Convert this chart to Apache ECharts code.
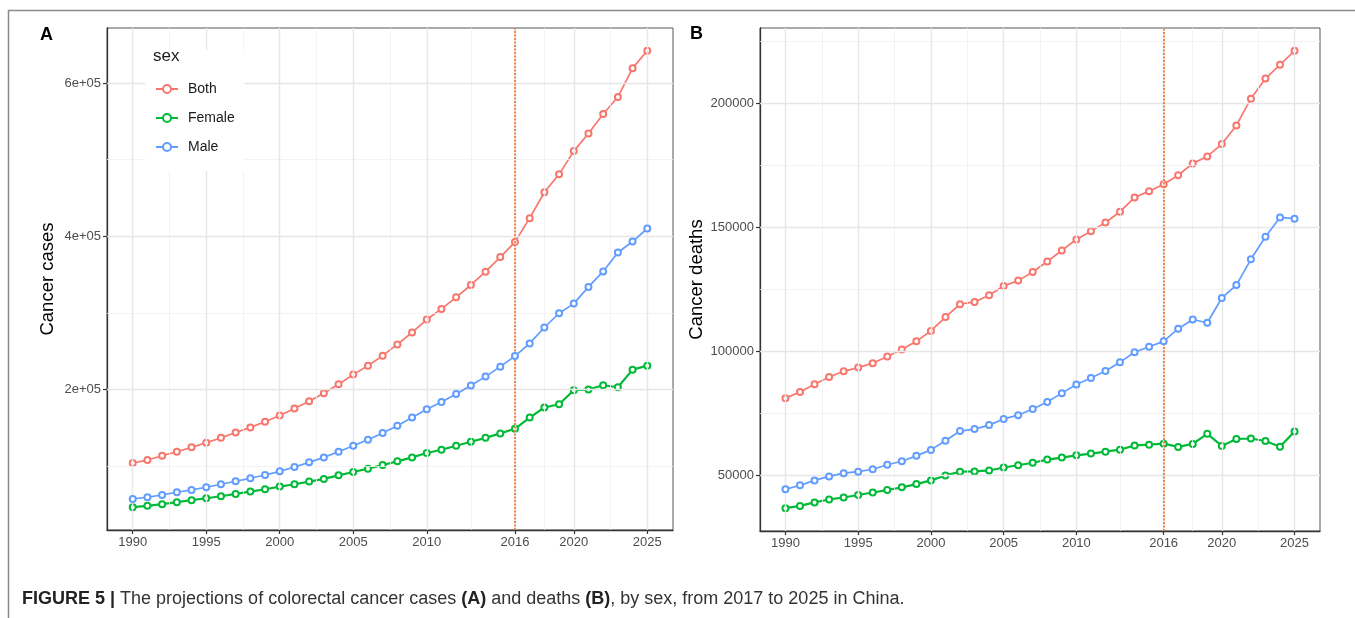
<!DOCTYPE html>
<html>
<head>
<meta charset="utf-8">
<script src="https://cdn.jsdelivr.net/npm/echarts@6/dist/echarts.min.js"></script>
<style>
html,body{margin:0;padding:0;background:#fff;}
#chart{width:1355px;height:618px;}
</style>
</head>
<body>
<div id="chart"></div>
<script>
// ---------- data ----------
const years = [1990,1991,1992,1993,1994,1995,1996,1997,1998,1999,
               2000,2001,2002,2003,2004,2005,2006,2007,2008,2009,
               2010,2011,2012,2013,2014,2015,2016,2017,2018,2019,
               2020,2021,2022,2023,2024,2025];

const casesBoth = [104200,108000,113700,118900,124600,130600,137000,144000,150600,157900,
                   166200,175300,184800,195200,206900,219500,231200,244200,258900,274500,
                   291400,305300,320400,336500,353800,372900,392500,423700,457500,480900,
                   511200,534200,559700,581800,619500,642100];
const casesFemale = [46500,48300,50400,53000,55600,58200,60800,63800,66900,69900,
                     73400,76400,79900,83400,88100,92400,96800,101600,106300,111500,
                     117200,121500,126700,131900,137000,142800,148800,163500,176600,180900,
                     199100,200000,205600,203000,226000,231200];
const casesMale = [57300,59500,62500,66000,69000,72500,76400,80300,84200,88500,
                   93300,98900,105000,111500,118900,126700,134500,143200,152700,163500,
                   174400,183900,194300,205200,216900,229900,243700,260200,281000,299600,
                   312200,334000,354200,378900,393200,410200];

const deathsBoth = [81000,83600,86700,89600,91900,93400,95200,97900,100700,104000,
                    108200,113800,119000,119900,122600,126300,128500,132000,136200,140700,
                    145100,148400,151900,156300,162000,164600,167400,171000,175800,178600,
                    183600,191100,201900,210000,215600,221200];
const deathsFemale = [36700,37600,39000,40200,41000,42000,43000,44000,45100,46400,
                      47900,49900,51400,51500,51900,53100,54000,55000,56300,57100,
                      58000,58700,59500,60300,62000,62300,62700,61400,62600,66700,
                      61800,64600,64800,63800,61500,67600];
const deathsMale = [44300,45900,47900,49500,50800,51400,52400,54200,55600,57800,
                    60200,63900,67800,68600,70200,72700,74200,76700,79500,83100,
                    86600,89200,92000,95600,99600,101800,104000,109100,112800,111500,
                    121500,126700,137100,146200,154000,153500];

const sexNames = ['Both','Female','Male'];
const sexColors = ['#F8766D','#00BA38','#619CFF'];

const xTicks = [1990,1995,2000,2005,2010,2016,2020,2025];
const xMinor = [1992.5,1997.5,2002.5,2007.5,2013,2018,2022.5];
const cutYear = 2016;

const casesTicks = [200000,400000,600000];
const casesTickLabels = ['2e+05','4e+05','6e+05'];
const casesMinor = [100000,300000,500000];

const deathsTicks = [50000,100000,150000,200000];
const deathsTickLabels = ['50000','100000','150000','200000'];
const deathsMinor = [75000,125000,175000,225000];

// ---------- helpers ----------
function expand(lo, hi){ const r = hi - lo; return [lo - 0.05*r, hi + 0.05*r]; }
const xr = expand(years[0], years[years.length-1]);
const cr = expand(Math.min(...casesFemale), Math.max(...casesBoth));
const dr = expand(Math.min(...deathsFemale), Math.max(...deathsBoth));

const FONT = "'Liberation Sans',Arial,Helvetica,sans-serif";

function pairs(vals){ return years.map((y,i)=>[y, vals[i]]); }

function xAxisDef(gi){
  return {
    type:'value', gridIndex:gi, min:xr[0], max:xr[1],
    axisLine:{show:true, onZero:false, lineStyle:{color:'#333', width:1.3}},
    axisTick:{show:true, customValues:xTicks, length:4, lineStyle:{color:'#333', width:1.2}},
    axisLabel:{show:true, customValues:xTicks, margin:6, color:'#4d4d4d', fontSize:13, fontFamily:FONT,
               formatter:v=>String(v)},
    splitLine:{show:false}
  };
}
function yAxisDef(gi, rng, ticks, labels, name){
  return {
    type:'value', gridIndex:gi, min:rng[0], max:rng[1],
    name:name, nameLocation:'middle', nameGap:50, nameRotate:90,
    nameTextStyle:{color:'#000', fontSize:18.5, fontFamily:FONT},
    axisLine:{show:true, onZero:false, lineStyle:{color:'#333', width:1.3}},
    axisTick:{show:true, customValues:ticks, length:4, lineStyle:{color:'#333', width:1.2}},
    axisLabel:{show:true, customValues:ticks, margin:6, color:'#4d4d4d', fontSize:13, fontFamily:FONT,
               formatter:v=>{const k=ticks.indexOf(v); return k>=0?labels[k]:'';}},
    splitLine:{show:false}
  };
}
function gridSeries(gi, yMajor, yMinor){
  const major = xTicks.map(v=>({xAxis:v})).concat(yMajor.map(v=>({yAxis:v})));
  const minor = xMinor.map(v=>({xAxis:v})).concat(yMinor.map(v=>({yAxis:v})));
  return [
    {type:'line', xAxisIndex:gi, yAxisIndex:gi, data:[], z:1, silent:true,
     markLine:{silent:true, symbol:['none','none'], label:{show:false}, animation:false,
               lineStyle:{color:'#f0f0f0', width:0.8, type:'solid'}, data:minor}},
    {type:'line', xAxisIndex:gi, yAxisIndex:gi, data:[], z:1, silent:true,
     markLine:{silent:true, symbol:['none','none'], label:{show:false}, animation:false,
               lineStyle:{color:'#e6e6e6', width:1.4, type:'solid'}, data:major}},
    {type:'line', xAxisIndex:gi, yAxisIndex:gi, data:[], z:2, silent:true,
     markLine:{silent:true, symbol:['none','none'], label:{show:false}, animation:false,
               lineStyle:{color:'#F26B1D', width:1.6, type:[2,1.5]}, data:[{xAxis:cutYear}]}}
  ];
}
function dataSeries(gi, arrs){
  return arrs.map((a,i)=>({
    name:sexNames[i], type:'line', xAxisIndex:gi, yAxisIndex:gi, data:pairs(a),
    symbol:'emptyCircle', symbolSize:6, z:3+i,
    lineStyle:{color:sexColors[i], width: i===1 ? 2.2 : 1.7},
    itemStyle:{color:sexColors[i], borderWidth:1.5},
    emphasis:{disabled:true}, animation:false
  }));
}

const chart = echarts.init(document.getElementById('chart'), null, {renderer:'canvas'});
chart.setOption({
  backgroundColor:'#fff',
  animation:false,
  grid:[
    {left:107, top:28, width:566, height:502, show:true, borderColor:'#555', borderWidth:1, backgroundColor:'#fff'},
    {left:760, top:28, width:560, height:503, show:true, borderColor:'#555', borderWidth:1, backgroundColor:'#fff'}
  ],
  xAxis:[xAxisDef(0), xAxisDef(1)],
  yAxis:[yAxisDef(0, cr, casesTicks, casesTickLabels, 'Cancer cases'),
         yAxisDef(1, dr, deathsTicks, deathsTickLabels, 'Cancer deaths')],
  title:[
    {text:'A', left:40, top:26, padding:0, textStyle:{fontSize:18, fontWeight:'bold', color:'#000', fontFamily:FONT}},
    {text:'B', left:690, top:25, padding:0, textStyle:{fontSize:18, fontWeight:'bold', color:'#000', fontFamily:FONT}},
    {text:'sex', left:153, top:48, padding:0, z:10, textStyle:{fontSize:17, fontWeight:'normal', color:'#1a1a1a', fontFamily:FONT}},
    {text:'{b|FIGURE 5 |} The projections of colorectal cancer cases {b|(A)} and deaths {b|(B)}, by sex, from 2017 to 2025 in China.',
     left:22, top:590, padding:0,
     textStyle:{fontSize:18, fontWeight:'normal', color:'#333', fontFamily:FONT,
                rich:{b:{fontSize:18, fontWeight:'bold', color:'#222', fontFamily:FONT}}}}
  ],
  legend:{
    data:sexNames, orient:'vertical', left:145, top:50,
    padding:[32,10,17,10], backgroundColor:'#fff', z:8,
    itemWidth:22, itemHeight:10, itemGap:15,
    selectedMode:false,
    textStyle:{fontSize:14, color:'#1a1a1a', padding:[0,0,0,5], fontFamily:FONT}
  },
  series:[].concat(
    gridSeries(0, casesTicks, casesMinor),
    gridSeries(1, deathsTicks, deathsMinor),
    dataSeries(0, [casesBoth, casesFemale, casesMale]),
    dataSeries(1, [deathsBoth, deathsFemale, deathsMale])
  ),
  graphic:[
    {type:'line', shape:{x1:8, y1:10.5, x2:1355, y2:10.5}, style:{stroke:'#8a8a8a', lineWidth:1.5}, silent:true},
    {type:'line', shape:{x1:8.5, y1:10, x2:8.5, y2:618}, style:{stroke:'#8a8a8a', lineWidth:1.5}, silent:true}
  ]
});
</script>
</body>
</html>
